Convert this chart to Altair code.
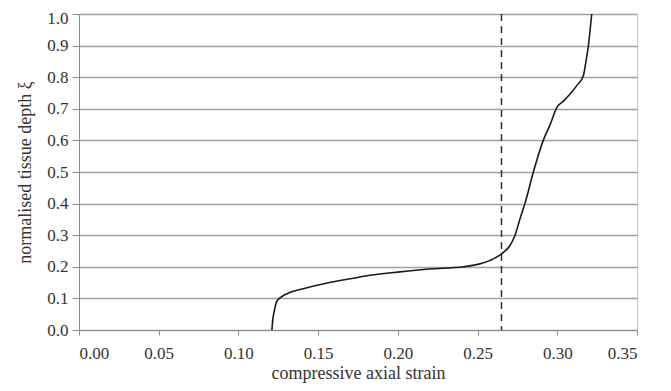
import altair as alt
import pandas as pd

strain = [0.121, 0.1215, 0.1225, 0.124, 0.127, 0.133, 0.140, 0.155, 0.170, 0.1825,
          0.2013, 0.220, 0.241, 0.252, 0.260, 0.266, 0.270, 0.2735, 0.2765, 0.2797,
          0.285, 0.2912, 0.2955, 0.2996, 0.304, 0.308, 0.3125, 0.3163, 0.318, 0.3195, 0.3216]
depth = [0.0, 0.03, 0.06, 0.09, 0.105, 0.12, 0.13, 0.148, 0.162, 0.173,
         0.184, 0.193, 0.2, 0.21, 0.225, 0.245, 0.265, 0.3, 0.35, 0.4,
         0.5, 0.6, 0.65, 0.703, 0.725, 0.747, 0.775, 0.804, 0.85, 0.9, 1.0]
threshold = [0.265]
x_ticks = [0, 0.05, 0.1, 0.15, 0.2, 0.25, 0.3, 0.35]
y_ticks = [0.0, 0.1, 0.2, 0.3, 0.4, 0.5, 0.6, 0.7, 0.8, 0.9, 1.0]

df = pd.DataFrame({"strain": strain, "depth": depth, "i": list(range(len(strain)))})
dfr = pd.DataFrame({"t": threshold})

FONT = "Liberation Serif"

x_scale = alt.Scale(domain=[0, 0.35], nice=False, zero=False)
y_scale = alt.Scale(domain=[0, 1.0], nice=False)

line = alt.Chart(df).mark_line(color="#1a1a1a", strokeWidth=1.6, interpolate="monotone").encode(
    x=alt.X("strain:Q", scale=x_scale,
            axis=alt.Axis(title="compressive axial strain", values=x_ticks,
                          format=".2f", grid=False, tickSize=5, labelPadding=10, titlePadding=3,
                          titleFontSize=18)),
    y=alt.Y("depth:Q", scale=y_scale,
            axis=alt.Axis(title="normalised tissue depth ξ", values=y_ticks,
                          format=".1f", grid=True, tickSize=7, labelPadding=4, titlePadding=12,
                          titleFontSize=18,
                          labelOffset=alt.condition("datum.value == 1", alt.value(4), alt.value(0)))),
    order="i:Q",
)

rule = alt.Chart(dfr).mark_rule(color="#333333", strokeWidth=1.5, strokeDash=[7, 5]).encode(
    x=alt.X("t:Q", scale=x_scale),
)

chart = alt.layer(rule, line).properties(
    width=558, height=316,
    autosize=alt.AutoSizeParams(type="none"),
    padding={"left": 71, "top": 6, "right": 26, "bottom": 53},
).configure_view(
    stroke="#c8c8c8", strokeWidth=1
).configure_axis(
    labelFont=FONT, titleFont=FONT, labelFontSize=17,
    labelColor="#333333", titleColor="#333333", titleFontWeight="normal",
    domainColor="#8c8c8c", tickColor="#8c8c8c", gridColor="#a0a0a0", gridWidth=1.3,
)

chart.save("out.html", embed_options={"renderer": "svg", "actions": False})
